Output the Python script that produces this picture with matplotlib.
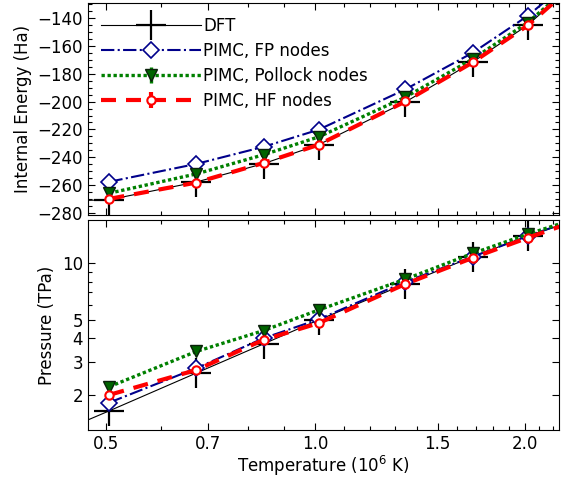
import numpy as np
import matplotlib
matplotlib.use('Agg')
import matplotlib.pyplot as plt
from matplotlib.ticker import MultipleLocator, NullFormatter

# Temperatures (10^6 K)
T_pimc = [0.505213, 0.673617, 0.842022, 1.010426, 1.347234, 1.684043, 2.020851, 2.694468]
T_dft = [0.4, 0.505213, 0.673617, 0.842022, 1.010426, 1.347234, 1.684043, 2.020851, 2.694468]

# Internal energy (Ha)
E_dft = [-272.1, -270.5, -257.8, -244.6, -231.0, -200.3, -171.6, -145.0, -90.0]
E_fp = [-257.6, -244.8, -232.5, -220.2, -191.2, -164.9, -138.4, -86.5]
E_pollock = [-265.8, -252.0, -238.2, -225.4, -196.8, -169.4, -143.2, -89.5]
E_hf = [-269.9, -258.2, -244.1, -231.0, -199.9, -171.8, -145.3, -90.2]
E_err = [0.8, 0.8, 0.8, 0.8, 0.8, 0.8, 0.8, 0.8]

# Pressure (TPa)
P_dft = [1.14, 1.645, 2.61, 3.73, 5.00, 7.77, 10.85, 13.98, 19.9]
P_fp = [1.82, 2.77, 4.00, 5.04, 7.98, 10.85, 13.98, 20.2]
P_pollock = [2.21, 3.40, 4.39, 5.65, 8.24, 11.3, 14.3, 20.1]
P_hf = [2.00, 2.71, 3.92, 4.81, 7.77, 10.7, 13.67, 19.85]
P_err = [0.02, 0.03, 0.04, 0.05, 0.08, 0.1, 0.14, 0.2]

xticks = [0.5, 0.7, 1.0, 1.5, 2.0]
xticklabels = ['0.5', '0.7', '1.0', '1.5', '2.0']
pticks = [2, 3, 4, 5, 10]
pticklabels = ['2', '3', '4', '5', '10']

plt.rcParams['font.size'] = 12

fig = plt.figure(figsize=(5.66, 4.78), dpi=100)
ax1 = fig.add_axes([0.1555, 0.5502, 0.8322, 0.4425])
ax2 = fig.add_axes([0.1555, 0.1004, 0.8322, 0.4393])


def draw(ax, y_dft, y_fp, y_pol, y_hf, err):
    ax.plot(T_dft, y_dft, color='k', lw=0.8, marker='+', ms=22, mew=1.6, label='DFT')
    ax.errorbar(T_pimc, y_fp, yerr=err, color='darkblue', ls='-.', lw=1.5,
                marker='D', ms=8.5, mfc='white', mec='darkblue', mew=1.2,
                capsize=0, label='PIMC, FP nodes')
    ax.errorbar(T_pimc, y_pol, yerr=err, color='green', ls=(0, (1, 0.8)), lw=2.4,
                marker='v', ms=8.5, mfc='darkgreen', mec='#0a200a', mew=1.0,
                capsize=0, label='PIMC, Pollock nodes')
    ax.errorbar(T_pimc, y_hf, yerr=err, color='red', ls=(0, (3.6, 2.4)), lw=3,
                marker='o', ms=6, mfc='white', mec='red', mew=1.5,
                capsize=0, label='PIMC, HF nodes')


draw(ax1, E_dft, E_fp, E_pollock, E_hf, E_err)
draw(ax2, P_dft, P_fp, P_pollock, P_hf, P_err)

minor_x = [0.6, 0.8, 0.9, 1.1, 1.2, 1.3, 1.4, 1.6, 1.7, 1.8, 1.9, 2.1, 2.2]
for ax in (ax1, ax2):
    ax.set_xscale('log')
    ax.set_xlim(0.4706, 2.242)
    ax.set_xticks(xticks)
    ax.set_xticks(minor_x, minor=True)
    ax.xaxis.set_minor_formatter(NullFormatter())
    ax.tick_params(which='both', direction='in', top=True, right=True, width=0.8)
    ax.tick_params(which='major', length=5)
    ax.tick_params(which='minor', length=3)

ax1.set_xticklabels([])
ax2.set_xticklabels(xticklabels)

ax1.set_ylim(-281.5, -129.5)
ax1.yaxis.set_major_locator(MultipleLocator(20))
ax1.yaxis.set_minor_locator(MultipleLocator(5))
ax1.set_ylabel('Internal Energy (Ha)')

ax2.set_yscale('log')
ax2.set_ylim(1.30, 17.0)
ax2.set_yticks(pticks)
ax2.set_yticklabels(pticklabels)
ax2.set_yticks([6, 7, 8, 9], minor=True)
ax2.yaxis.set_minor_formatter(NullFormatter())
ax2.set_ylabel('Pressure (TPa)')
ax2.set_xlabel('Temperature (10$^6$ K)', labelpad=1)

ax1.legend(loc='upper left', frameon=False, numpoints=1, handlelength=6,
           handletextpad=0.1, labelspacing=0.42, borderaxespad=0.4, borderpad=0.4)

fig.savefig('out.png', dpi=100)
